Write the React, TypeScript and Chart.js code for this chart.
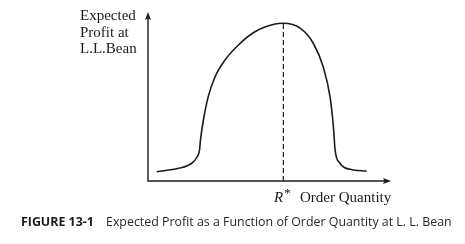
import React, { useEffect, useRef } from "react";
import { Chart, registerables } from "chart.js";

Chart.register(...registerables);

// Order quantity (abstract units, 0-100 along the axis)
const orderQuantity = [3.6, 12.5, 18.0, 20.2, 21.2, 21.6, 22.8, 24.8, 27.6, 31.7, 37.2, 44.0, 52.3, 55.7, 62.6, 68.0, 72.1, 74.9, 76.3, 77.0, 79.0, 83.1, 90.0];
// Expected profit (abstract units, 0-100 along the axis)
const expectedProfit = [5.5, 7.5, 10.5, 14.2, 18.3, 24.3, 36.1, 49.9, 61.7, 71.6, 80.5, 88.3, 92.9, 93.3, 90.4, 81.5, 67.6, 49.9, 32.1, 18.3, 10.5, 6.9, 5.9];
const optimalQuantity = [55.7, 55.7];
const optimalLine = [0, 93.3];

const yAxisLabel = ["Expected", "Profit at", "L.L.Bean"];
const xAxisLabel = "Order Quantity";
const optimumLabel = "R";
const captionNumber = "FIGURE 13-1";
const captionText = "Expected Profit as a Function of Order Quantity at L. L. Bean";

const INK = "#1c1a1b";

const axesPlugin = {
  id: "arrowAxes",
  afterDatasetsDraw(chart: any) {
    const { ctx, chartArea } = chart;
    const { left, right, top, bottom } = chartArea;
    ctx.save();
    ctx.strokeStyle = INK;
    ctx.fillStyle = INK;
    ctx.lineWidth = 1.4;
    ctx.beginPath();
    ctx.moveTo(left, top + 5);
    ctx.lineTo(left, bottom);
    ctx.lineTo(right - 5, bottom);
    ctx.stroke();
    // top arrow
    ctx.beginPath();
    ctx.moveTo(left, top);
    ctx.lineTo(left - 3, top + 8);
    ctx.lineTo(left, top + 6.5);
    ctx.lineTo(left + 3, top + 8);
    ctx.closePath();
    ctx.fill();
    // right arrow
    ctx.beginPath();
    ctx.moveTo(right, bottom);
    ctx.lineTo(right - 8, bottom - 3);
    ctx.lineTo(right - 6.5, bottom);
    ctx.lineTo(right - 8, bottom + 3);
    ctx.closePath();
    ctx.fill();
    ctx.restore();
  },
};

export default function App() {
  const ref = useRef<HTMLCanvasElement>(null);

  useEffect(() => {
    if (!ref.current) return;
    const chart = new Chart(ref.current, {
      type: "line",
      data: {
        datasets: [
          {
            data: orderQuantity.map((x, i) => ({ x, y: expectedProfit[i] })),
            borderColor: INK,
            borderWidth: 1.6,
            pointRadius: 0,
            cubicInterpolationMode: "monotone",
            fill: false,
          },
          {
            data: optimalQuantity.map((x, i) => ({ x, y: optimalLine[i] })),
            borderColor: INK,
            borderWidth: 1.2,
            borderDash: [5, 3],
            pointRadius: 0,
            fill: false,
          },
        ],
      },
      options: {
        animation: false,
        responsive: false,
        maintainAspectRatio: false,
        devicePixelRatio: 1,
        layout: { padding: { left: 148, top: 12, right: 74, bottom: 63 } },
        plugins: { legend: { display: false }, tooltip: { enabled: false }, title: { display: false } },
        scales: {
          x: { type: "linear", min: 0, max: 100, display: false },
          y: { type: "linear", min: 0, max: 100, display: false },
        },
      },
      plugins: [axesPlugin],
    });
    return () => chart.destroy();
  }, []);

  const serif = "'Liberation Serif', 'Times New Roman', serif";
  const sans = "'Open Sans', 'Noto Sans', sans-serif";

  return (
    <div style={{ position: "absolute", left: 0, top: 0, width: 465, height: 244, background: "#fff", overflow: "hidden" }}>
      <canvas ref={ref} width={465} height={244} style={{ position: "absolute", left: 0, top: 0, width: 465, height: 244 }} />
      <div style={{ position: "absolute", left: 80, top: 7, fontFamily: serif, fontSize: 15, lineHeight: "16.5px", color: INK, whiteSpace: "nowrap" }}>
        {yAxisLabel.map((t) => (
          <div key={t}>{t}</div>
        ))}
      </div>
      <div style={{ position: "absolute", left: 274, top: 188.6, fontFamily: serif, fontSize: 15, lineHeight: "16.6px", color: INK, whiteSpace: "nowrap" }}>
        <span style={{ fontStyle: "italic" }}>{optimumLabel}</span>
        <span style={{ position: "relative", top: -5, fontSize: 13, marginLeft: 1 }}>*</span>
      </div>
      <div style={{ position: "absolute", left: 300, top: 188.6, fontFamily: serif, fontSize: 15, lineHeight: "16.6px", color: INK, whiteSpace: "nowrap" }}>
        {xAxisLabel}
      </div>
      <div style={{ position: "absolute", left: 21, top: 213.7, fontFamily: sans, fontSize: 12.4, lineHeight: "16.9px", color: INK, whiteSpace: "nowrap", fontWeight: 700 }}>
        {captionNumber}
      </div>
      <div style={{ position: "absolute", left: 106, top: 213.7, fontFamily: sans, fontSize: 12.4, lineHeight: "16.9px", color: "#2a2829", whiteSpace: "nowrap" }}>
        {captionText}
      </div>
    </div>
  );
}
